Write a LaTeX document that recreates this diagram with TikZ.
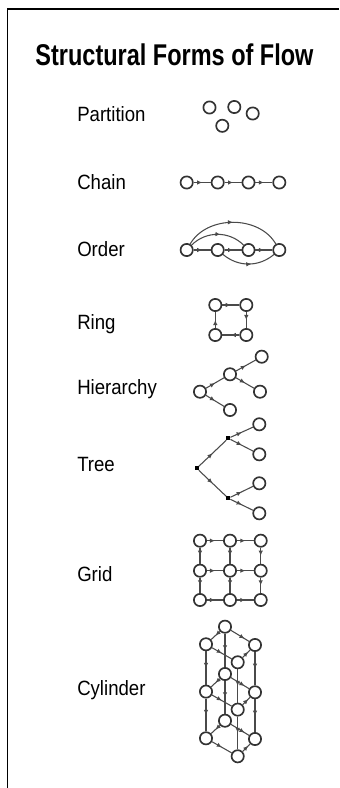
\documentclass[tikz,border=0pt]{standalone}
\usepackage{fontspec}
\usepackage{graphicx}
\setmainfont{Liberation Sans}
\usetikzlibrary{arrows.meta,decorations.markings}
\definecolor{ndcol}{HTML}{333333}
\definecolor{edcol}{HTML}{4A4A4A}
\begin{document}
\begin{tikzpicture}[x=0.75pt,y=-0.75pt,
  nd/.style={circle,draw=ndcol,line width=1.25pt,inner sep=0pt,minimum size=9.2pt},
  dotnd/.style={rectangle,fill=black,inner sep=0pt,minimum size=2.8pt},
  ed/.style={draw,color=edcol,line width=0.8pt,postaction={decorate},
    decoration={markings,mark=at position #1 with {\arrow{Latex[length=3.8pt,width=3.4pt]}}}},
  ed/.default=0.5,
  lab/.style={anchor=base west,inner sep=0pt,font=\fontsize{15.5}{18}\selectfont},
  frameline/.style={line width=1.1pt,black}
]
\useasboundingbox (0,0) rectangle (339,788);
% frame
\coordinate (fr1) at (339,9);
\coordinate (fr2) at (7.5,9);
\coordinate (fr3) at (7.5,788);
\draw[frameline] (fr1) -- (fr2) -- (fr3);
% title
\node[anchor=base,inner sep=0pt] (title) at (174.5,66) {\resizebox{208.5pt}{16.3pt}{\bfseries Structural Forms of Flow}};
% labels
\node[lab] (lpart) at (77,122) {\scalebox{0.9}[1]{Partition}};
\node[lab] (lchain) at (77,190) {\scalebox{0.9}[1]{Chain}};
\node[lab] (lorder) at (77,256) {\scalebox{0.9}[1]{Order}};
\node[lab] (lring) at (77,329) {\scalebox{0.9}[1]{Ring}};
\node[lab] (lhier) at (77,394) {\scalebox{0.9}[1]{Hierarchy}};
\node[lab] (ltree) at (77,471) {\scalebox{0.9}[1]{Tree}};
\node[lab] (lgrid) at (77,581) {\scalebox{0.9}[1]{Grid}};
\node[lab] (lcyl) at (77,695) {\scalebox{0.9}[1]{Cylinder}};
% Partition
\node[nd] (p1) at (209.5,107.5) {};
\node[nd] (p2) at (234.3,107) {};
\node[nd] (p3) at (252.7,113.5) {};
\node[nd] (p4) at (222.3,125.8) {};
% Chain
\node[nd] (c1) at (186.7,182.5) {};
\node[nd] (c2) at (217.7,182.5) {};
\node[nd] (c3) at (248.5,182.5) {};
\node[nd] (c4) at (279.3,182.5) {};
\draw[ed] (c1) -- (c2);
\draw[ed] (c2) -- (c3);
\draw[ed] (c3) -- (c4);
% Order
\node[nd] (o1) at (186.7,250) {};
\node[nd] (o2) at (217.7,250) {};
\node[nd] (o3) at (248.5,250) {};
\node[nd] (o4) at (279.3,250) {};
\draw[ed] (o1) -- (o2);
\draw[ed] (o2) -- (o3);
\draw[ed] (o3) -- (o4);
\draw[ed] (o1) to[bend left=60] (o4);
\draw[ed=0.55] (o1) to[bend left=45] (o3);
\draw[ed=0.55] (o2) to[bend right=40] (o4);
% Ring
\node[nd] (r1) at (215.3,305) {};
\node[nd] (r2) at (246.3,305) {};
\node[nd] (r3) at (246.3,335) {};
\node[nd] (r4) at (215.3,335) {};
\draw[ed] (r1) -- (r2);
\draw[ed] (r2) -- (r3);
\draw[ed] (r3) -- (r4);
\draw[ed] (r4) -- (r1);
% Hierarchy
\node[nd] (h1) at (200,391.7) {};
\node[nd] (h2) at (230,374.3) {};
\node[nd] (h3) at (261.7,356.7) {};
\node[nd] (h4) at (260,391.7) {};
\node[nd] (h5) at (230,410) {};
\draw[ed] (h1) -- (h2);
\draw[ed] (h2) -- (h3);
\draw[ed] (h2) -- (h4);
\draw[ed] (h1) -- (h5);
% Tree
\node[dotnd] (t0) at (196.7,468.3) {};
\node[dotnd] (t1) at (228.3,438.3) {};
\node[dotnd] (t2) at (228.3,498.3) {};
\node[nd] (tl1) at (259.3,424.3) {};
\node[nd] (tl2) at (259.3,454.3) {};
\node[nd] (tl3) at (259.3,483.3) {};
\node[nd] (tl4) at (259.3,513.3) {};
\draw[ed] (t0) -- (t1);
\draw[ed] (t0) -- (t2);
\draw[ed] (t1) -- (tl1);
\draw[ed] (t1) -- (tl2);
\draw[ed] (t2) -- (tl3);
\draw[ed] (t2) -- (tl4);
% Grid
\foreach \i/\x in {1/200,2/230,3/260.7}
  \foreach \j/\y in {1/540.7,2/570.7,3/600}
    \node[nd] (g\i\j) at (\x,\y) {};
\foreach \j in {1,2,3}{
  \draw[ed] (g1\j) -- (g2\j);
  \draw[ed] (g2\j) -- (g3\j);
  \draw[ed] (g\j1) -- (g\j2);
  \draw[ed] (g\j2) -- (g\j3);
}
% Cylinder
\foreach \k/\dy in {1/0,2/47.3,3/94}{
  \node[nd] (ya\k) at (225,626.7+\dy) {};
  \node[nd] (yb\k) at (206,644.3+\dy) {};
  \node[nd] (yc\k) at (255,645+\dy) {};
  \node[nd] (yd\k) at (237.7,662.3+\dy) {};
}
\foreach \k in {1,2,3}{
  \draw[ed] (ya\k) -- (yb\k);
  \draw[ed=0.75] (ya\k) -- (yc\k);
  \draw[ed] (yb\k) -- (yd\k);
  \draw[ed=0.75] (yd\k) -- (yc\k);
}
\foreach \p in {a,b,c,d}{
  \draw[ed] (y\p1) -- (y\p2);
  \draw[ed] (y\p2) -- (y\p3);
}
\end{tikzpicture}
\end{document}
